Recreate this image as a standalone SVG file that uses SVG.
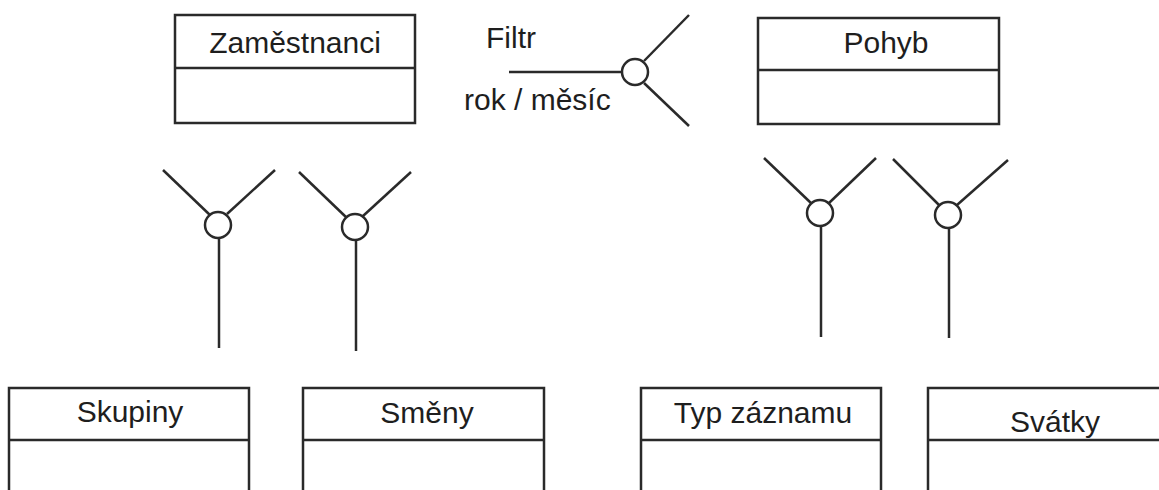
<svg xmlns="http://www.w3.org/2000/svg" width="1159" height="490" viewBox="0 0 1159 490">
<style>
.box{fill:#fff;stroke:#2a2a2a;stroke-width:2.5}
.ln{fill:none;stroke:#2a2a2a;stroke-width:2.5}
.hub{fill:#fff;stroke:#2a2a2a;stroke-width:2.5}
text{font-family:"Liberation Sans",Arial,sans-serif;font-size:30px;fill:#1e1e1e}
.c{text-anchor:middle}
</style>
<rect width="1159" height="490" fill="#fff"/>
<g id="zamestnanci">
<rect class="box" x="175" y="15" width="240" height="108"/>
<line class="ln" x1="175" y1="68" x2="415" y2="68"/>
<text class="c" x="295" y="53">Zaměstnanci</text>
</g>
<g id="pohyb">
<rect class="box" x="758" y="18" width="241" height="106"/>
<line class="ln" x1="758" y1="70" x2="999" y2="70"/>
<text class="c" x="886" y="53">Pohyb</text>
</g>
<g id="skupiny">
<rect class="box" x="9" y="388" width="240" height="110"/>
<line class="ln" x1="9" y1="440" x2="249" y2="440"/>
<text class="c" x="130" y="422">Skupiny</text>
</g>
<g id="smeny">
<rect class="box" x="303" y="388" width="241" height="110"/>
<line class="ln" x1="303" y1="440" x2="544" y2="440"/>
<text class="c" x="427" y="423">Směny</text>
</g>
<g id="typ-zaznamu">
<rect class="box" x="641" y="388" width="240" height="110"/>
<line class="ln" x1="641" y1="440" x2="881" y2="440"/>
<text class="c" x="763" y="423">Typ záznamu</text>
</g>
<g id="svatky">
<rect class="box" x="928" y="388" width="240" height="110"/>
<line class="ln" x1="928" y1="440" x2="1168" y2="440"/>
<text class="c" x="1055" y="432">Svátky</text>
</g>
<g id="connectors">
<g id="filtr">
<line class="ln" x1="509" y1="72" x2="622" y2="72"/>
<line class="ln" x1="644" y1="61" x2="689" y2="15"/>
<line class="ln" x1="644" y1="83" x2="689" y2="126"/>
<circle class="hub" cx="635" cy="72" r="13"/>
<text x="486" y="48">Filtr</text>
<text x="464" y="110">rok / měsíc</text>
</g>
<g id="y1">
<line class="ln" x1="163" y1="170" x2="211" y2="216"/>
<line class="ln" x1="275" y1="170" x2="227" y2="214"/>
<line class="ln" x1="219" y1="237" x2="219" y2="348"/>
<circle class="hub" cx="218" cy="225" r="13"/>
</g>
<g id="y2">
<line class="ln" x1="299" y1="172" x2="347" y2="218"/>
<line class="ln" x1="411" y1="172" x2="363" y2="216"/>
<line class="ln" x1="356" y1="239" x2="356" y2="351"/>
<circle class="hub" cx="355" cy="227" r="13"/>
</g>
<g id="y3">
<line class="ln" x1="764" y1="158" x2="812" y2="204"/>
<line class="ln" x1="876" y1="158" x2="829" y2="203"/>
<line class="ln" x1="821" y1="225" x2="821" y2="337"/>
<circle class="hub" cx="820" cy="213" r="13"/>
</g>
<g id="y4">
<line class="ln" x1="893" y1="159" x2="940" y2="206"/>
<line class="ln" x1="1008" y1="160" x2="957" y2="205"/>
<line class="ln" x1="949" y1="227" x2="949" y2="338"/>
<circle class="hub" cx="948" cy="215" r="13"/>
</g>
</g>
</svg>
